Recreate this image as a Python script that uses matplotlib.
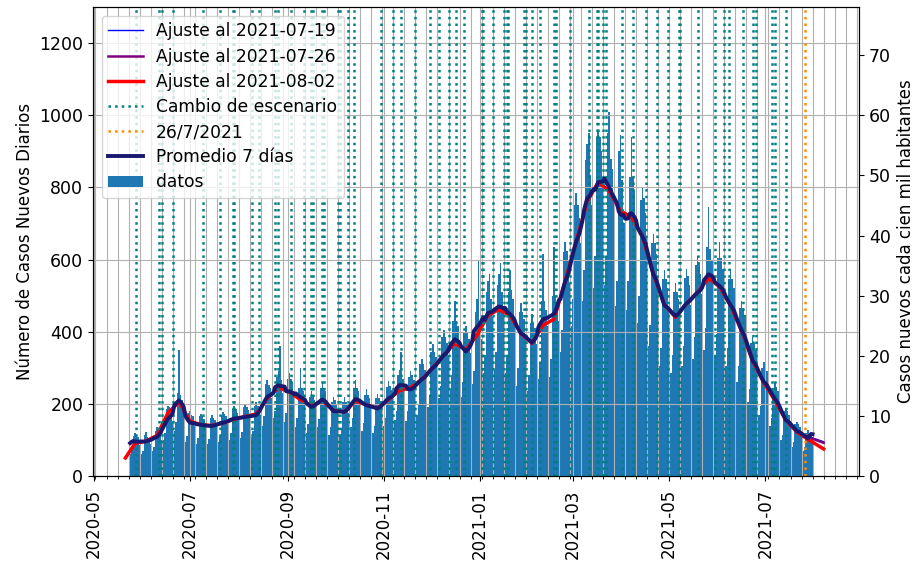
import matplotlib.pyplot as plt
import matplotlib.dates as mdates
import numpy as np
import pandas as pd

# casos diarios desde 2020-05-24 (una fila por semana, domingo a sabado)
casos = [
    60, 75, 112, 118, 110, 108, 85,
    62, 70, 115, 122, 108, 105, 90,
    70, 80, 125, 135, 128, 120, 100,
    100, 118, 185, 195, 190, 175, 150,
    125, 150, 230, 350, 225, 210, 175,
    95, 110, 175, 180, 170, 165, 140,
    90, 105, 165, 172, 165, 158, 135,
    88, 102, 160, 168, 162, 155, 138,
    95, 110, 170, 178, 172, 165, 145,
    100, 120, 185, 195, 185, 175, 155,
    105, 122, 190, 200, 190, 182, 160,
    108, 125, 195, 205, 195, 185, 170,
    140, 165, 255, 265, 252, 245, 215,
    160, 180, 275, 290, 360, 265, 230,
    150, 175, 270, 285, 270, 260, 235,
    135, 160, 245, 300, 245, 235, 210,
    120, 145, 220, 235, 220, 210, 190,
    135, 158, 245, 258, 245, 235, 210,
    115, 135, 205, 220, 210, 200, 175,
    112, 133, 205, 218, 205, 198, 175,
    135, 160, 245, 265, 245, 235, 210,
    125, 148, 225, 240, 225, 215, 195,
    118, 140, 215, 228, 215, 208, 185,
    138, 160, 248, 262, 250, 238, 210,
    155, 180, 280, 295, 345, 270, 240,
    152, 180, 275, 292, 280, 265, 236,
    170, 200, 310, 325, 310, 295, 265,
    190, 225, 345, 365, 345, 330, 300,
    215, 250, 385, 405, 385, 370, 335,
    240, 280, 430, 485, 430, 415, 375,
    220, 260, 400, 415, 400, 380, 340,
    255, 290, 455, 490, 600, 420, 380,
    285, 335, 510, 540, 560, 490, 440,
    295, 345, 530, 560, 590, 510, 460,
    285, 335, 510, 570, 515, 490, 440,
    250, 300, 455, 480, 455, 435, 390,
    235, 280, 425, 450, 425, 410, 365,
    270, 315, 485, 615, 485, 460, 415,
    275, 325, 500, 635, 500, 480, 430,
    345, 405, 620, 650, 625, 595, 535,
    415, 490, 750, 785, 750, 715, 645,
    485, 570, 875, 920, 950, 835, 750,
    520, 610, 940, 960, 940, 900, 830,
    530, 610, 950, 1010, 880, 850, 760,
    470, 540, 900, 945, 820, 700, 700,
    460, 540, 830, 940, 830, 790, 710,
    425, 500, 765, 800, 770, 730, 660,
    360, 420, 645, 670, 645, 615, 555,
    305, 355, 545, 570, 545, 520, 470,
    285, 335, 510, 535, 510, 490, 440,
    305, 360, 550, 575, 555, 530, 475,
    325, 385, 585, 610, 590, 560, 505,
    350, 410, 635, 745, 630, 600, 545,
    335, 395, 605, 650, 605, 575, 520,
    305, 355, 545, 575, 545, 520, 470,
    260, 305, 465, 485, 465, 445, 400,
    205, 240, 370, 385, 370, 350, 315,
    170, 195, 300, 315, 300, 290, 260,
    140, 160, 245, 260, 248, 235, 215,
    100, 115, 180, 188, 180, 170, 152,
    80, 95, 145, 150, 145, 135, 123,
    70, 80, 120, 128, 120, 115, 100,
]
fechas = pd.date_range('2020-05-24', periods=len(casos), freq='D')

# ajustes (puntos semanales)
fechas_ajuste = pd.to_datetime(['2020-05-21']
                               + list(pd.date_range('2020-05-27', periods=62, freq='7D').strftime('%Y-%m-%d'))
                               + ['2021-08-07'])
ajuste_0802 = [50,
               90, 97, 112, 175, 205, 152, 142, 140, 147, 157,
               165, 172, 215, 245, 233, 212, 195, 208, 182, 178,
               208, 197, 188, 212, 237, 245, 268, 300, 335, 368,
               350, 390, 445, 462, 445, 395, 368, 418, 435, 540,
               650, 760, 815, 790, 735, 718, 665, 560, 475, 440,
               478, 510, 548, 525, 472, 402, 318, 260, 210, 155,
               122, 102,
               75]
ajuste_0726 = ajuste_0802[:-3] + [125, 108, 92]
ajuste_0719 = ajuste_0802[:-3] + [126, 110, 95]

cambios = ['2020-05-28', '2020-06-11', '2020-06-13', '2020-06-20', '2020-07-09',
           '2020-07-20', '2020-07-28', '2020-07-29', '2020-08-09', '2020-08-14',
           '2020-08-24', '2020-08-26', '2020-09-03', '2020-09-11', '2020-09-16',
           '2020-09-17', '2020-09-23', '2020-09-24', '2020-10-03', '2020-10-04',
           '2020-10-09', '2020-10-13', '2020-10-30', '2020-11-07', '2020-11-12',
           '2020-11-21', '2020-11-30', '2020-12-06', '2020-12-12', '2020-12-17',
           '2020-12-22', '2021-01-02', '2021-01-03', '2021-01-09', '2021-01-16',
           '2021-01-18', '2021-01-19', '2021-01-29', '2021-01-30', '2021-02-03',
           '2021-02-08', '2021-02-17', '2021-02-18', '2021-02-27', '2021-03-11',
           '2021-03-16', '2021-03-17', '2021-03-20', '2021-03-22', '2021-04-01',
           '2021-04-08', '2021-04-16', '2021-04-23', '2021-04-30', '2021-05-07',
           '2021-05-08', '2021-05-19', '2021-05-30', '2021-06-05', '2021-06-08',
           '2021-06-17', '2021-06-23', '2021-06-25', '2021-07-05', '2021-07-07',
           '2021-07-14']
fecha_hoy = '2021-07-26'

factor = 0.06  # casos cada cien mil habitantes

plt.rcParams['font.size'] = 12

fig = plt.figure(figsize=(9.16, 5.63), dpi=100)
ax = fig.add_axes([0.1015, 0.1545, 0.8365, 0.833])

ax.plot(fechas_ajuste, ajuste_0719, color='blue', lw=1, label='Ajuste al 2021-07-19')
ax.plot(fechas_ajuste, ajuste_0726, color='purple', lw=1.8, label='Ajuste al 2021-07-26')
ax.plot(fechas_ajuste, ajuste_0802, color='red', lw=2.5, label='Ajuste al 2021-08-02')

for i, c in enumerate(cambios):
    ax.axvline(pd.Timestamp(c), color='teal', ls=':', lw=1.8,
               label='Cambio de escenario' if i == 0 else None)
ax.axvline(pd.Timestamp(fecha_hoy), color='darkorange', ls=':', lw=1.8, label='26/7/2021')

promedio = pd.Series(casos, index=fechas).rolling(7, center=True, min_periods=4).mean()
ax.plot(promedio.index, promedio.values, color='midnightblue', lw=2.8, label='Promedio 7 días')

ax.bar(fechas, casos, width=1.0, color='tab:blue', label='datos')

ax.set_xlim(pd.Timestamp('2020-04-30 10:00'), pd.Timestamp('2021-08-29 14:00'))
ax.set_ylim(0, 1300)
ax.xaxis.set_major_locator(mdates.MonthLocator(bymonth=[1, 3, 5, 7, 9, 11]))
ax.xaxis.set_major_formatter(mdates.DateFormatter('%Y-%m'))
ax.xaxis.set_minor_locator(mdates.WeekdayLocator(byweekday=mdates.SA))
ax.tick_params(axis='x', labelrotation=90, pad=6)
ax.tick_params(axis='y', labelsize=12.5)
ax.grid(True, which='both', color='#b0b0b0', lw=0.8)
ax.set_ylabel('Número de Casos Nuevos Diarios')
ax.legend(loc='upper left', fontsize=12.3, labelspacing=0.42)

ax2 = ax.twinx()
ax2.set_ylim(0, 1300 * factor)
ax2.tick_params(axis='y', labelsize=12.5)
ax2.set_ylabel('Casos nuevos cada cien mil habitantes')

fig.savefig('out.png', dpi=100)
